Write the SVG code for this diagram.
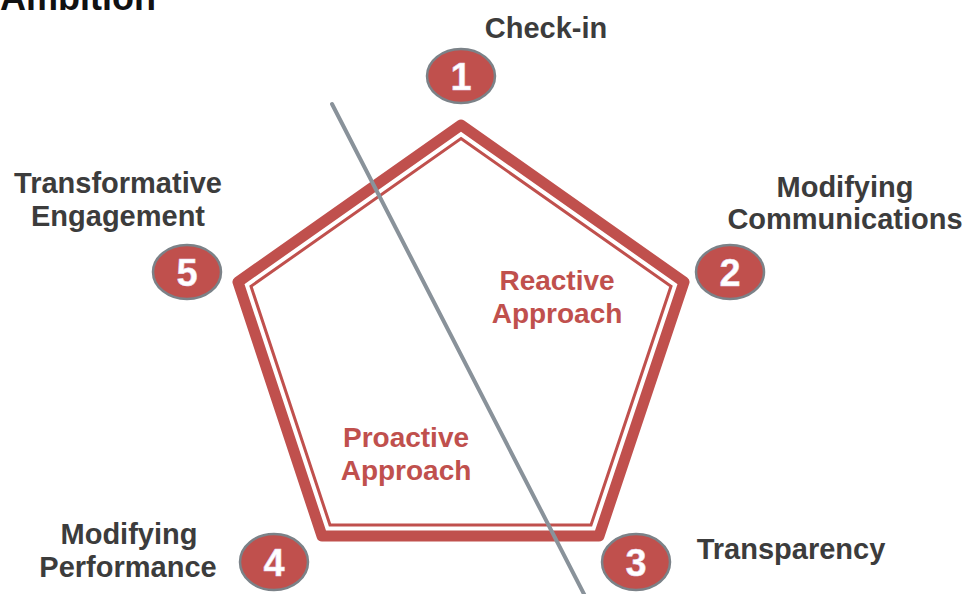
<svg xmlns="http://www.w3.org/2000/svg" width="967" height="594" viewBox="0 0 967 594">
<style>
.lbl{font-family:"Liberation Sans",Arial,sans-serif;font-weight:bold;font-size:29px;fill:#3c3c3c;text-anchor:middle}
.app{font-family:"Liberation Sans",Arial,sans-serif;font-weight:bold;font-size:28px;fill:#c0504d;text-anchor:middle}
.badge{fill:#c0504d;stroke:#7b8288;stroke-width:2.5}
.num{font-family:"Liberation Sans",Arial,sans-serif;font-weight:bold;font-size:38px;fill:#ffffff;text-anchor:middle;stroke:#e8d8f0;stroke-width:0.5}
.outer{fill:none;stroke:#c0504d;stroke-width:11;stroke-linejoin:round}
.inner{fill:none;stroke:#c0504d;stroke-width:3;stroke-linejoin:miter}
</style>
<rect width="967" height="594" fill="#ffffff"/>
<text x="0" y="10" style="font-family:'Liberation Sans',Arial,sans-serif;font-weight:bold;font-size:36px;fill:#111">Ambition</text>
<g id="pentagon">
<polygon class="outer" points="461,125 684,282 599,536 322,536 238,282"/>
<polygon class="inner" points="461,138.5 671,286.3 591,525 330,525 251,286.3"/>
</g>
<g id="connectors">
<line x1="332" y1="104" x2="585" y2="596" stroke="#89929a" stroke-width="4" stroke-linecap="round"/>
</g>
<g id="approach-reactive">
<text class="app" x="557" y="290">Reactive</text>
<text class="app" x="557" y="323">Approach</text>
</g>
<g id="approach-proactive">
<text class="app" x="406" y="447">Proactive</text>
<text class="app" x="406" y="480">Approach</text>
</g>
<g id="node1">
<ellipse class="badge" cx="461" cy="76" rx="34" ry="27"/>
<text class="num" x="461" y="90">1</text>
<text class="lbl" x="546" y="38">Check-in</text>
</g>
<g id="node2">
<ellipse class="badge" cx="730" cy="272" rx="34" ry="27"/>
<text class="num" x="730" y="286">2</text>
<text class="lbl" x="845" y="197">Modifying</text>
<text class="lbl" x="845" y="229">Communications</text>
</g>
<g id="node3">
<ellipse class="badge" cx="636" cy="562" rx="34" ry="28"/>
<text class="num" x="636" y="576">3</text>
<text class="lbl" x="791" y="559">Transparency</text>
</g>
<g id="node4">
<ellipse class="badge" cx="274" cy="562" rx="34" ry="28"/>
<text class="num" x="274" y="576">4</text>
<text class="lbl" x="129" y="544">Modifying</text>
<text class="lbl" x="128" y="577">Performance</text>
</g>
<g id="node5">
<ellipse class="badge" cx="187" cy="272" rx="34" ry="27"/>
<text class="num" x="187" y="286">5</text>
<text class="lbl" x="118" y="193">Transformative</text>
<text class="lbl" x="118" y="226">Engagement</text>
</g>
</svg>
